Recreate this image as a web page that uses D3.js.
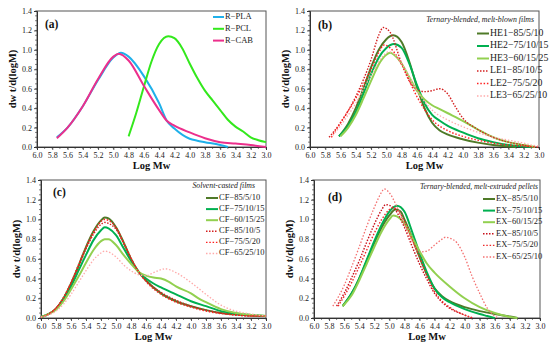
<!DOCTYPE html>
<html>
<head>
<meta charset="utf-8">
<script src="https://cdn.jsdelivr.net/npm/d3@7"></script>
<style>
  body { margin: 0; background: #fff; }
  svg { display: block; font-family: "Liberation Serif", "Times New Roman", serif; }
</style>
</head>
<body>
<script>
// tick values shared by all four panels
var xTickValues = [6.0,5.8,5.6,5.4,5.2,5.0,4.8,4.6,4.4,4.2,4.0,3.8,3.6,3.4,3.2,3.0];
var yTickValues = [0.0,0.2,0.4,0.6,0.8,1.0,1.2,1.4];

// (a) raw polymers
var namesA = ['R\u2212PLA','R\u2212PCL','R\u2212CAB'];
var rPLA = [[5.74,0.10],[5.6,0.20],[5.4,0.42],[5.2,0.69],[5.0,0.92],[4.9,0.97],[4.8,0.93],[4.6,0.73],[4.4,0.45],[4.3,0.27],[4.2,0.19],[4.0,0.085],[3.9,0.065],[3.8,0.05],[3.6,0.02],[3.5,0.0]];
var rPCL = [[4.8,0.11],[4.7,0.35],[4.6,0.62],[4.5,0.88],[4.4,1.06],[4.28,1.14],[4.2,1.12],[4.1,1.02],[4.0,0.86],[3.9,0.71],[3.8,0.58],[3.7,0.48],[3.6,0.38],[3.5,0.28],[3.4,0.21],[3.3,0.16],[3.2,0.10],[3.1,0.07],[3.0,0.05]];
var rCAB = [[5.74,0.09],[5.6,0.20],[5.4,0.42],[5.2,0.70],[5.0,0.93],[4.93,0.96],[4.8,0.89],[4.6,0.63],[4.4,0.38],[4.3,0.27],[4.2,0.22],[4.0,0.15],[3.8,0.09],[3.6,0.05],[3.4,0.035],[3.2,0.02],[3.0,0.0]];

// (b) melt-blown films
var namesB = ['HE1\u221285/5/10','HE2\u221275/10/15','HE3\u221260/15/25','LE1\u221285/10/5','LE2\u221275/5/20','LE3\u221265/25/10'];
var he1 = [[5.62,0.11],[5.5,0.24],[5.4,0.40],[5.3,0.60],[5.2,0.82],[5.1,1.00],[5.0,1.11],[4.91,1.15],[4.8,1.08],[4.7,0.88],[4.6,0.62],[4.5,0.40],[4.4,0.25],[4.3,0.17],[4.2,0.13],[4.0,0.08],[3.8,0.045],[3.6,0.02],[3.4,0.005],[3.3,0.0]];
var he2 = [[5.62,0.11],[5.5,0.22],[5.4,0.36],[5.3,0.55],[5.2,0.75],[5.1,0.92],[5.0,1.02],[4.9,1.06],[4.8,1.02],[4.7,0.86],[4.6,0.64],[4.5,0.45],[4.4,0.33],[4.3,0.27],[4.2,0.22],[4.0,0.15],[3.8,0.09],[3.6,0.05],[3.4,0.02],[3.2,0.005],[3.1,0.0]];
var he3 = [[5.60,0.11],[5.5,0.20],[5.4,0.33],[5.3,0.50],[5.2,0.68],[5.1,0.85],[5.0,0.95],[4.95,0.97],[4.9,0.95],[4.8,0.86],[4.7,0.72],[4.6,0.58],[4.5,0.49],[4.4,0.43],[4.3,0.39],[4.2,0.35],[4.0,0.27],[3.8,0.18],[3.6,0.10],[3.4,0.05],[3.2,0.02],[3.05,0.0]];
var le1 = [[5.75,0.10],[5.6,0.25],[5.4,0.52],[5.2,0.90],[5.1,1.15],[5.04,1.23],[4.95,1.18],[4.8,0.86],[4.7,0.68],[4.6,0.59],[4.5,0.57],[4.4,0.58],[4.3,0.60],[4.2,0.55],[4.1,0.42],[4.0,0.30],[3.8,0.18],[3.6,0.10],[3.4,0.05],[3.2,0.02],[3.1,0.0]];
var le2 = [[5.72,0.10],[5.6,0.25],[5.4,0.50],[5.2,0.80],[5.1,0.97],[5.03,1.05],[4.95,1.02],[4.8,0.85],[4.6,0.52],[4.4,0.28],[4.2,0.17],[4.0,0.11],[3.8,0.07],[3.6,0.04],[3.4,0.02],[3.2,0.01],[3.0,0.0]];
var le3 = [[5.70,0.12],[5.6,0.22],[5.4,0.45],[5.2,0.74],[5.05,0.93],[4.97,0.98],[4.9,0.96],[4.8,0.86],[4.6,0.58],[4.4,0.38],[4.2,0.28],[4.0,0.21],[3.8,0.15],[3.6,0.10],[3.4,0.07],[3.2,0.04],[3.1,0.02],[3.0,0.01]];

// (c) solvent-casted films
var namesC = ['CF\u221285/5/10','CF\u221275/10/15','CF\u221260/15/25','CF\u221285/10/5','CF\u221275/5/20','CF\u221265/25/10'];
var cf1 = [[6.0,0.01],[5.9,0.04],[5.8,0.095],[5.7,0.20],[5.6,0.35],[5.5,0.53],[5.4,0.72],[5.3,0.88],[5.2,0.99],[5.15,1.02],[5.1,1.01],[5.0,0.92],[4.9,0.77],[4.8,0.60],[4.7,0.47],[4.6,0.38],[4.4,0.25],[4.2,0.17],[4.0,0.12],[3.8,0.08],[3.6,0.05],[3.4,0.035],[3.2,0.025],[3.0,0.02]];
var cf2 = [[6.0,0.01],[5.9,0.04],[5.8,0.09],[5.7,0.19],[5.6,0.32],[5.5,0.48],[5.4,0.64],[5.3,0.79],[5.2,0.89],[5.15,0.92],[5.1,0.91],[5.0,0.84],[4.9,0.71],[4.8,0.58],[4.7,0.47],[4.6,0.40],[4.5,0.35],[4.4,0.31],[4.2,0.24],[4.0,0.17],[3.8,0.12],[3.6,0.07],[3.4,0.045],[3.2,0.03],[3.0,0.02]];
var cf3 = [[6.0,0.01],[5.9,0.04],[5.8,0.085],[5.7,0.17],[5.6,0.29],[5.5,0.42],[5.4,0.56],[5.3,0.69],[5.2,0.78],[5.15,0.80],[5.1,0.80],[5.0,0.74],[4.9,0.64],[4.8,0.55],[4.7,0.47],[4.6,0.43],[4.5,0.41],[4.4,0.40],[4.3,0.37],[4.2,0.32],[4.0,0.25],[3.9,0.20],[3.8,0.16],[3.6,0.09],[3.4,0.05],[3.2,0.03],[3.0,0.02]];
var cf4 = [[6.0,0.01],[5.9,0.04],[5.8,0.10],[5.7,0.20],[5.6,0.35],[5.5,0.52],[5.4,0.70],[5.3,0.85],[5.2,0.95],[5.15,0.97],[5.1,0.96],[5.0,0.90],[4.9,0.76],[4.8,0.60],[4.7,0.47],[4.6,0.38],[4.4,0.26],[4.2,0.18],[4.0,0.12],[3.8,0.08],[3.6,0.05],[3.4,0.03],[3.2,0.02],[3.0,0.02]];
var cf5 = [[6.0,0.01],[5.9,0.04],[5.8,0.10],[5.7,0.21],[5.6,0.36],[5.5,0.54],[5.4,0.72],[5.3,0.87],[5.2,0.98],[5.15,1.00],[5.1,0.99],[5.0,0.92],[4.9,0.77],[4.8,0.61],[4.7,0.47],[4.6,0.37],[4.4,0.24],[4.2,0.16],[4.0,0.11],[3.8,0.07],[3.6,0.045],[3.4,0.03],[3.2,0.02],[3.0,0.02]];
var cf6 = [[6.0,0.01],[5.9,0.03],[5.8,0.07],[5.7,0.14],[5.6,0.24],[5.5,0.36],[5.4,0.48],[5.3,0.59],[5.2,0.66],[5.15,0.68],[5.1,0.67],[5.0,0.62],[4.9,0.54],[4.8,0.48],[4.7,0.44],[4.6,0.43],[4.5,0.46],[4.4,0.49],[4.35,0.50],[4.2,0.46],[4.0,0.36],[3.8,0.24],[3.6,0.13],[3.4,0.07],[3.2,0.04],[3.0,0.02]];

// (d) melt-extruded pellets
var namesD = ['EX\u221285/5/10','EX\u221275/10/15','EX\u221260/15/25','EX\u221285/10/5','EX\u221275/5/20','EX\u221265/25/10'];
var ex1 = [[5.62,0.12],[5.5,0.25],[5.4,0.40],[5.3,0.58],[5.2,0.76],[5.1,0.92],[5.0,1.04],[4.92,1.10],[4.85,1.08],[4.8,1.00],[4.7,0.82],[4.6,0.62],[4.5,0.44],[4.4,0.30],[4.3,0.22],[4.2,0.17],[4.0,0.11],[3.8,0.07],[3.6,0.04],[3.4,0.015],[3.3,0.0]];
var ex2 = [[5.62,0.12],[5.5,0.25],[5.4,0.40],[5.3,0.59],[5.2,0.78],[5.1,0.95],[5.0,1.08],[4.9,1.14],[4.8,1.08],[4.7,0.88],[4.6,0.66],[4.5,0.46],[4.4,0.30],[4.3,0.21],[4.2,0.16],[4.0,0.09],[3.8,0.04],[3.7,0.02],[3.6,0.0]];
var ex3 = [[5.62,0.12],[5.5,0.23],[5.4,0.38],[5.3,0.55],[5.2,0.72],[5.1,0.88],[5.0,1.00],[4.95,1.04],[4.9,1.03],[4.8,0.96],[4.7,0.82],[4.6,0.68],[4.5,0.55],[4.4,0.46],[4.2,0.32],[4.0,0.20],[3.8,0.11],[3.6,0.05],[3.4,0.01],[3.3,0.0]];
var ex4 = [[5.70,0.12],[5.6,0.25],[5.5,0.41],[5.4,0.58],[5.3,0.77],[5.2,0.95],[5.1,1.10],[5.05,1.15],[4.95,1.12],[4.8,0.92],[4.7,0.73],[4.6,0.55],[4.5,0.39],[4.4,0.25],[4.3,0.16],[4.2,0.10],[4.0,0.03],[3.9,0.0]];
var ex5 = [[5.68,0.12],[5.6,0.22],[5.5,0.36],[5.4,0.52],[5.3,0.69],[5.2,0.86],[5.1,1.00],[5.0,1.10],[4.95,1.12],[4.9,1.10],[4.8,0.98],[4.7,0.80],[4.6,0.62],[4.5,0.43],[4.4,0.27],[4.3,0.17],[4.2,0.11],[4.0,0.03],[3.88,0.0]];
var ex6 = [[5.75,0.12],[5.6,0.33],[5.5,0.52],[5.4,0.72],[5.3,0.93],[5.2,1.12],[5.1,1.28],[5.07,1.31],[5.0,1.27],[4.9,1.13],[4.8,0.95],[4.7,0.78],[4.6,0.67],[4.5,0.68],[4.4,0.74],[4.3,0.80],[4.25,0.82],[4.2,0.81],[4.1,0.76],[4.0,0.62],[3.9,0.42],[3.8,0.25],[3.7,0.10],[3.6,0.02],[3.55,0.0]];

// line styles
var solid1 = {color:'#4f7a28', width:2, dash:null};
var solid2 = {color:'#00b050', width:2, dash:null};
var solid3 = {color:'#92d050', width:2, dash:null};
var dotA = {color:'#d42020', width:1.4, dash:'1.5,1.5'};
var dotB = {color:'#ff2020', width:1.4, dash:'1.5,1.8'};
var dotC = {color:'#ffaaaa', width:1.3, dash:'1.5,1.8'};

var panels = [
  {box:{l:37,r:266,t:11,b:147}, tag:'(a)', tagPos:[45,28], note:null,
   series:[rPLA,rPCL,rCAB], names:namesA,
   styles:[{color:'#1fb0ea',width:2},{color:'#33e81c',width:2},{color:'#ec2f8c',width:2}],
   legend:{x1:213,x2:224,tx:225,y0:17,dy:11.8,size:8.5}},
  {box:{l:310,r:539,t:11,b:147}, tag:'(b)', tagPos:[318,29],
   note:{text:'Ternary-blended, melt-blown films', x:534, y:20, size:7.8},
   series:[he1,he2,he3,le1,le2,le3], names:namesB,
   styles:[solid1,solid2,solid3,dotA,dotB,dotC],
   legend:{x1:477,x2:489,tx:490,y0:33.5,dy:12.5,size:9.8}},
  {box:{l:41,r:266,t:180,b:318}, tag:'(c)', tagPos:[53,196],
   note:{text:'Solvent-casted films', x:255, y:186, size:7.8},
   series:[cf1,cf2,cf3,cf4,cf5,cf6], names:namesC,
   styles:[solid1,solid2,solid3,dotA,dotB,dotC],
   legend:{x1:206,x2:218,tx:219,y0:198,dy:11.1,size:8.5}},
  {box:{l:314,r:540,t:180,b:318}, tag:'(d)', tagPos:[328,201],
   note:{text:'Ternary-blended, melt-extruded pellets', x:538, y:187, size:7.6},
   series:[ex1,ex2,ex3,ex4,ex5,ex6], names:namesD,
   styles:[solid1,solid2,solid3,{color:'#c8101a',width:1.4,dash:'1.5,1.5'},{color:'#ee2a2a',width:1.4,dash:'1.5,1.8'},{color:'#f47070',width:1.3,dash:'1.5,1.8'}],
   legend:{x1:483,x2:495,tx:496,y0:199,dy:11.6,size:8.5}}
];

var svg = d3.select('body').append('svg').attr('width',550).attr('height',348);

panels.forEach(function(p){
  var b = p.box;
  var x = d3.scaleLinear().domain([6.0,3.0]).range([b.l,b.r]);
  var y = d3.scaleLinear().domain([0,1.4]).range([b.b,b.t]);
  var g = svg.append('g');

  // plot frame
  g.append('rect').attr('x',b.l).attr('y',b.t).attr('width',b.r-b.l).attr('height',b.b-b.t)
    .attr('fill','none').attr('stroke','#555').attr('stroke-width',1);

  // minor ticks
  var yMinor = d3.range(0,1.4001,0.05);
  g.selectAll('.ym').data(yMinor).enter().append('line')
    .attr('x1',b.l-2).attr('x2',b.l).attr('y1',function(d){return y(d);}).attr('y2',function(d){return y(d);})
    .attr('stroke','#333').attr('stroke-width',0.6);
  var xMinor = d3.range(3.0,6.0001,0.1);
  g.selectAll('.xm').data(xMinor).enter().append('line')
    .attr('y1',b.b).attr('y2',b.b+2).attr('x1',function(d){return x(d);}).attr('x2',function(d){return x(d);})
    .attr('stroke','#333').attr('stroke-width',0.6);

  var xAxis = d3.axisBottom(x).tickValues(xTickValues).tickFormat(d3.format('.1f')).tickSize(3).tickPadding(2);
  var yAxis = d3.axisLeft(y).tickValues(yTickValues).tickFormat(d3.format('.1f')).tickSize(3).tickPadding(2);
  var gx = g.append('g').attr('transform','translate(0,'+b.b+')').call(xAxis);
  var gy = g.append('g').attr('transform','translate('+b.l+',0)').call(yAxis);
  [gx,gy].forEach(function(a){
    a.select('.domain').attr('stroke','#333');
    a.selectAll('.tick line').attr('stroke','#333').attr('stroke-width',0.8);
    a.selectAll('text').attr('font-family','Liberation Serif').attr('font-size',8).attr('fill','#222');
  });

  // axis titles
  g.append('text').attr('x',(b.l+b.r)/2).attr('y',b.b+22).attr('text-anchor','middle')
    .attr('font-weight','bold').attr('font-size',10.5).attr('fill','#111').text('Log Mw');
  g.append('text').attr('transform','translate('+(b.l-21)+','+((b.t+b.b)/2)+') rotate(-90)')
    .attr('text-anchor','middle').attr('font-weight','bold').attr('font-size',10.5).attr('fill','#111')
    .text('dw t/d(logM)');

  g.append('text').attr('x',p.tagPos[0]).attr('y',p.tagPos[1]).attr('font-weight','bold')
    .attr('font-size',11.5).attr('fill','#111').text(p.tag);

  if (p.note) {
    g.append('text').attr('x',p.note.x).attr('y',p.note.y).attr('text-anchor','end')
      .attr('dominant-baseline','middle').attr('font-style','italic').attr('font-size',p.note.size)
      .attr('fill','#222').text(p.note.text);
  }

  var line = d3.line().x(function(d){return x(d[0]);}).y(function(d){return y(d[1]);}).curve(d3.curveMonotoneX);

  p.series.forEach(function(s,i){
    var st = p.styles[i];
    g.append('path').datum(s).attr('d',line).attr('fill','none')
      .attr('stroke',st.color).attr('stroke-width',st.width)
      .attr('stroke-dasharray',st.dash || null);
  });

  // legend
  var L = p.legend;
  p.names.forEach(function(n,i){
    var st = p.styles[i];
    var yy = L.y0 + i*L.dy;
    g.append('line').attr('x1',L.x1).attr('x2',L.x2).attr('y1',yy).attr('y2',yy)
      .attr('stroke',st.color).attr('stroke-width',st.width).attr('stroke-dasharray',st.dash || null);
    g.append('text').attr('x',L.tx).attr('y',yy).attr('dominant-baseline','middle')
      .attr('font-size',L.size).attr('fill','#222').text(n);
  });
});
</script>
</body>
</html>
